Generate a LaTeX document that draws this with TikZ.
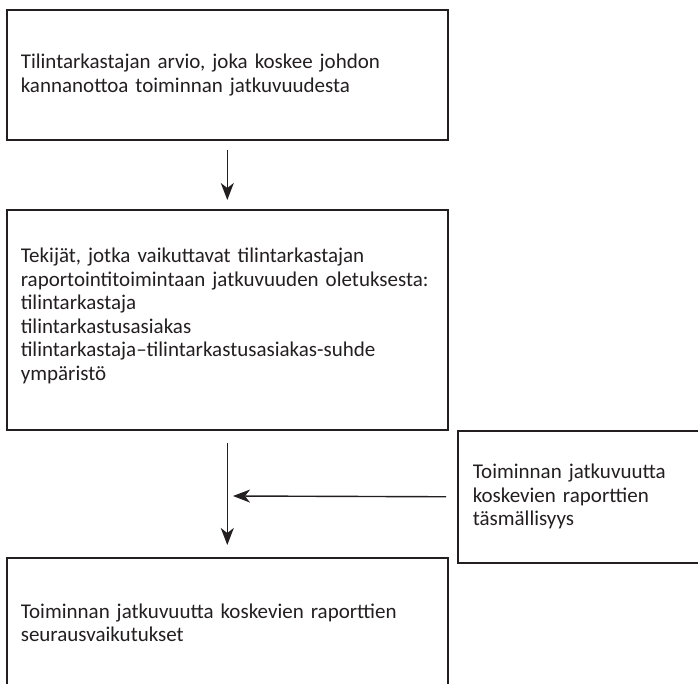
\documentclass[tikz,border=0pt]{standalone}
\usepackage{fontspec}
\setmainfont{Carlito}
\usetikzlibrary{arrows.meta}
\definecolor{ink}{RGB}{35, 31, 32}

\tikzset{
    box/.style={draw=ink, line width=1.6pt, anchor=north west, align=left,
        inner xsep=14pt, inner ysep=0pt, text=ink,
        font=\fontsize{21}{23.5}\selectfont},
    flow/.style={draw=ink, line width=1.4pt, -{Stealth[length=17pt, width=13pt, inset=5pt]}}
}

\begin{document}
\begin{tikzpicture}[x=1pt, y=-1pt]
    \clip (0,0) rectangle (698,684);
    \useasboundingbox (0,0) rectangle (698,684);

    % main column
    \node[box, text width=413pt, minimum height=130pt] (arvio) at (6,9)
        {Tilintarkastajan arvio, joka koskee johdon\\
         kannanottoa toiminnan jatkuvuudesta};
    \node[box, text width=413pt, minimum height=220pt] (tekijat) at (6,209)
        {Tekijät, jotka vaikuttavat tilintarkastajan\\
         raportointitoimintaan jatkuvuuden oletuksesta:\\
         tilintarkastaja\\
         tilintarkastusasiakas\\
         tilintarkastaja–tilintarkastusasiakas-suhde\\
         ympäristö\rule[-11pt]{0pt}{0pt}};
    \node[box, text width=413pt, minimum height=130pt] (seuraus) at (6,557)
        {Toiminnan jatkuvuutta koskevien raporttien\\
         seurausvaikutukset};

    % side box
    \node[box, inner xsep=15pt, text width=230pt, minimum height=132pt] (tarkkuus) at (457,430)
        {Toiminnan jatkuvuutta\\
         koskevien raporttien\\
         täsmällisyys};

    \coordinate (liitos) at (233,496);

    \draw[flow, shorten <=9pt, shorten >=9pt] (arvio.south) -- (tekijat.north);
    \draw[flow, shorten <=12pt, shorten >=12pt] (tekijat.south) -- (seuraus.north);
    \draw[flow, shorten <=11pt] (tarkkuus.west) -- (liitos);
\end{tikzpicture}
\end{document}
